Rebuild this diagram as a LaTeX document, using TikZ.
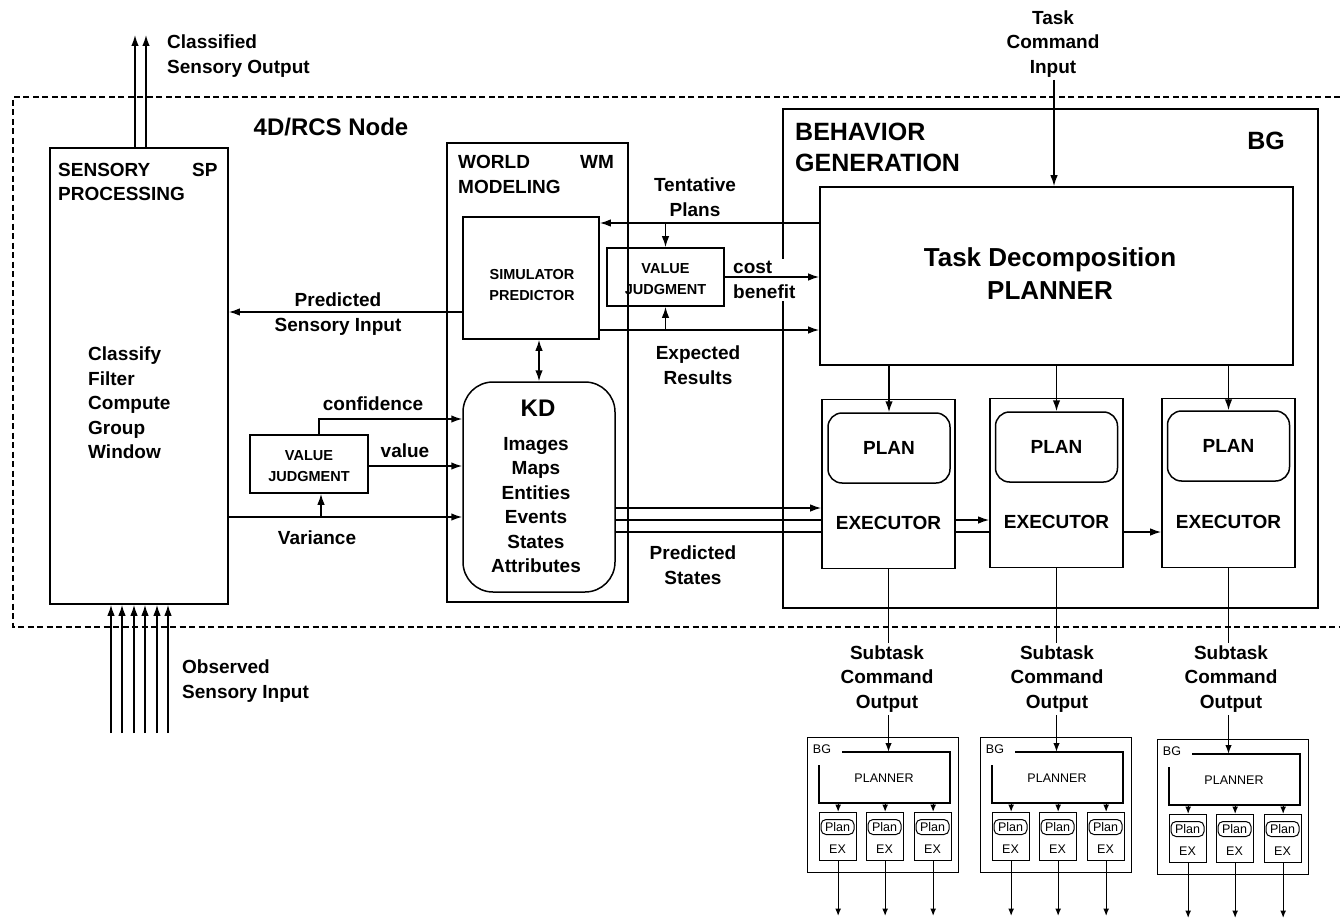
\documentclass[tikz,border=0pt]{standalone}
\usepackage{fontspec}
\setmainfont{Liberation Sans}
\usetikzlibrary{arrows.meta,backgrounds}
\tikzset{
  box/.style={draw, line width=1.6pt, rectangle, inner sep=0pt},
  wbox/.style={box, fill=white},
  arr/.style={line width=1.5pt, -{Latex[length=11pt,width=7.5pt]}},
  darr/.style={line width=1.5pt, {Latex[length=11pt,width=7.5pt]}-{Latex[length=11pt,width=7.5pt]}},
  sarr/.style={line width=1.5pt, -{Latex[length=9pt,width=6.5pt]}},
  marr/.style={line width=1.3pt, -{Latex[length=7.5pt,width=6pt]}},
  lbl/.style={font=\fontsize{19}{24.5}\selectfont\bfseries, align=center, inner sep=0pt},
  lbll/.style={lbl, align=left, anchor=west},
  smalltxt/.style={font=\fontsize{14.5}{21}\selectfont\bfseries, align=center, inner sep=0pt},
  mbox/.style={draw, line width=1.3pt, inner sep=0pt},
  mln/.style={line width=1.3pt},
  mtxt/.style={font=\fontsize{12.5}{15}\selectfont, inner sep=0pt},
  mplan/.style={draw, line width=1pt, rounded corners=5pt, minimum width=33pt, minimum height=15pt, inner sep=0pt, font=\fontsize{12.5}{15}\selectfont},
}
\newcommand{\minibg}[3]{%
\begin{scope}[shift={(#2,#3)}]
  \node[mbox, anchor=north west, minimum width=151pt, minimum height=135pt] (#1) at (0,0) {};
  \draw[mln] (35,15) -- (143,15) -- (143,66) -- (12,66) -- (12,28);
  \node[mtxt] (#1bg) at (15,12) {BG};
  \node[mtxt] (#1pl) at (77,41) {PLANNER};
  \coordinate (#1top) at (0,15);
  \coordinate (#1pb) at (0,66);
  \coordinate (#1out) at (0,179);
  \foreach \j/\xx in {a/12,b/59,c/107} {
    \node[mbox, fill=white, anchor=north west, minimum width=37pt, minimum height=48pt] (#1\j) at (\xx,75) {};
    \node[mplan] (#1\j p) at (\xx+18.5,90) {Plan};
    \node[mtxt] (#1\j x) at (\xx+18.5,112) {EX};
    \draw[marr] (#1\j.north |- #1pb) -- (#1\j.north);
    \draw[marr] (#1\j.south) -- (#1\j.south |- #1out);
  }
\end{scope}}
\begin{document}
\begin{tikzpicture}[x=1pt,y=-1pt]
\useasboundingbox (0,0) rectangle (1340,920);

% 4D/RCS node frame
\draw[line width=1.2pt, dash pattern=on 6pt off 3.5pt] (1340,97) -- (13,97) -- (13,627) -- (1340,627);
\node[font=\fontsize{24}{28}\selectfont\bfseries, inner sep=0pt] (title) at (331,127) {4D/RCS Node};

% Sensory processing
\node[box, minimum width=178pt, minimum height=456pt] (SP) at (139,376) {};
\node[lbl, anchor=west] (sp1) at (58,170) {SENSORY};
\node[lbl, anchor=west] (sp2) at (192,170) {SP};
\node[lbl, anchor=west] (sp3) at (58,194) {PROCESSING};
\node[lbll] (splist) at (88,403) {Classify\\Filter\\Compute\\Group\\Window};

% World modeling
\node[box, minimum width=181pt, minimum height=459pt] (WM) at (537.5,372.5) {};
\node[lbl, anchor=west] (wm1) at (458,162) {WORLD};
\node[lbl, anchor=west] (wm2) at (580,162) {WM};
\node[lbl, anchor=west] (wm3) at (458,187) {MODELING};
\node[box, minimum width=136pt, minimum height=122pt] (SIM) at (531,278) {};
\node[smalltxt] (simt) at (532,285) {SIMULATOR\\PREDICTOR};
\node[draw, line width=1.5pt, rounded corners=30pt, minimum width=152pt, minimum height=210pt, inner sep=0pt] (KD) at (539,487) {};
\node[font=\fontsize{24}{28}\selectfont\bfseries, inner sep=0pt] (kdt) at (538,408) {KD};
\node[lbl] (kdlist) at (536,505) {Images\\Maps\\Entities\\Events\\States\\Attributes};

% value judgments
\node[box, minimum width=118pt, minimum height=58pt] (VJ1) at (309,464) {};
\node[smalltxt] (vj1t) at (309,466) {VALUE\\JUDGMENT};
\node[box, minimum width=117pt, minimum height=58pt] (VJ2) at (665.5,277) {};
\node[smalltxt] (vj2t) at (665.5,279) {VALUE\\JUDGMENT};

% Behavior generation
\node[box, minimum width=535pt, minimum height=499pt] (BGB) at (1050.5,358.5) {};
\node[font=\fontsize{25}{31}\selectfont\bfseries, align=left, anchor=west, inner sep=0pt] (bgt) at (795,147) {BEHAVIOR\\GENERATION};
\node[font=\fontsize{25}{31}\selectfont\bfseries, inner sep=0pt] (bgl) at (1266,141) {BG};
\node[box, minimum width=473pt, minimum height=178pt] (PLN) at (1056.5,276) {};
\node[font=\fontsize{26}{33}\selectfont\bfseries, align=center, inner sep=0pt] (plnt) at (1050,274) {Task Decomposition\\PLANNER};

\node[wbox, minimum width=133pt, minimum height=169pt] (E1) at (888.5,484) {};
\node[wbox, minimum width=133pt, minimum height=169pt] (E2) at (1056.5,483) {};
\node[wbox, minimum width=133pt, minimum height=169pt] (E3) at (1228.5,483) {};
\node[draw, line width=1.5pt, rounded corners=14pt, minimum width=122pt, minimum height=70pt, lbl] (P1) at (889,448) {PLAN};
\node[draw, line width=1.5pt, rounded corners=14pt, minimum width=122pt, minimum height=70pt, lbl] (P2) at (1056.5,447) {PLAN};
\node[draw, line width=1.5pt, rounded corners=14pt, minimum width=122pt, minimum height=70pt, lbl] (P3) at (1228.5,446) {PLAN};
\node[lbl] (X1) at (888.5,523) {EXECUTOR};
\node[lbl] (X2) at (1056.5,522) {EXECUTOR};
\node[lbl] (X3) at (1228.5,522) {EXECUTOR};

% labels
\node[lbll] (clso) at (167,56) {Classified\\Sensory Output};
\node[lbll] (obsi) at (182,681) {Observed\\Sensory Input};
\node[lbl] (psi) at (338,314) {Predicted\\Sensory Input};
\node[lbl] (conf) at (373,404) {confidence};
\node[lbl] (val) at (405,451) {value};
\node[lbl] (var) at (317,538) {Variance};
\node[lbl] (tent) at (695,197) {Tentative\\Plans};
\node[lbl, align=left, anchor=west, fill=white, inner sep=2pt] (cost) at (731,280) {cost\\benefit};
\node[lbl] (expr) at (698,365) {Expected\\Results};
\node[lbl] (pst) at (693,565) {Predicted\\States};
\node[lbl] (tci) at (1053,44) {Task\\Command\\Input};

% mini BG modules
\minibg{ma}{807}{737}
\minibg{mb}{980}{737}
\minibg{mc}{1157}{739}

% connectors
\coordinate (c1) at (135,35);
\coordinate (c2) at (146,35);
\draw[arr] (SP.north -| c1) -- (c1);
\draw[arr] (SP.north -| c2) -- (c2);
\foreach \i/\x in {1/111,2/122,3/134,4/145,5/157,6/168} {
  \coordinate (o\i) at (\x,733);
  \draw[arr] (o\i) -- (SP.south -| o\i);
}
\coordinate (yPSI) at (0,312);
\draw[arr] (SIM.west |- yPSI) -- (SP.east |- yPSI);
\coordinate (yVar) at (0,517);
\coordinate (xVar) at (321,0);
\draw[arr] (SP.east |- yVar) -- (KD.west |- yVar);
\draw[arr] (xVar |- yVar) -- (xVar |- VJ1.south);
\coordinate (cf) at (319,419);
\draw[arr] (cf |- VJ1.north) -- (cf) -- (KD.west |- cf);
\coordinate (yVal) at (0,466);
\draw[arr] (VJ1.east |- yVal) -- (KD.west |- yVal);
\draw[darr] (SIM.south -| KD.north) -- (KD.north);
\coordinate (yTP) at (0,223);
\draw[arr] (PLN.west |- yTP) -- (SIM.east |- yTP);
\draw[arr] (VJ2.north |- yTP) -- (VJ2.north);
\coordinate (yER) at (0,330);
\draw[arr] (SIM.east |- yER) -- (PLN.west |- yER);
\draw[arr] (VJ2.south |- yER) -- (VJ2.south);
\draw[arr] (VJ2.east) -- (PLN.west |- VJ2.east);
\coordinate (tcs) at (1054,80);
\draw[arr] (tcs) -- (PLN.north -| tcs);
\draw[arr] (PLN.south -| P1.north) -- (P1.north);
\draw[arr] (PLN.south -| P2.north) -- (P2.north);
\draw[arr] (PLN.south -| P3.north) -- (P3.north);

\node[lbl, fill=white, inner sep=3pt] (st1) at (887,679) {Subtask\\Command\\Output};
\node[lbl, fill=white, inner sep=3pt] (st2) at (1057,679) {Subtask\\Command\\Output};
\node[lbl, fill=white, inner sep=3pt] (st3) at (1231,679) {Subtask\\Command\\Output};

\begin{pgfonlayer}{background}
  \fill[white] (0,0) rectangle (1340,920);
  \coordinate (ps1) at (0,508);
  \coordinate (ps2) at (0,520);
  \coordinate (ps3) at (0,532);
  \draw[arr] (KD.east |- ps1) -- (E1.west |- ps1);
  \draw[arr] (KD.east |- ps2) -- (E2.west |- ps2);
  \draw[arr] (KD.east |- ps3) -- (E3.west |- ps3);
  \draw[sarr] (E1.south) -- (E1.south |- matop);
  \draw[sarr] (E2.south) -- (E2.south |- mbtop);
  \draw[sarr] (E3.south) -- (E3.south |- mctop);
\end{pgfonlayer}
\end{tikzpicture}
\end{document}
